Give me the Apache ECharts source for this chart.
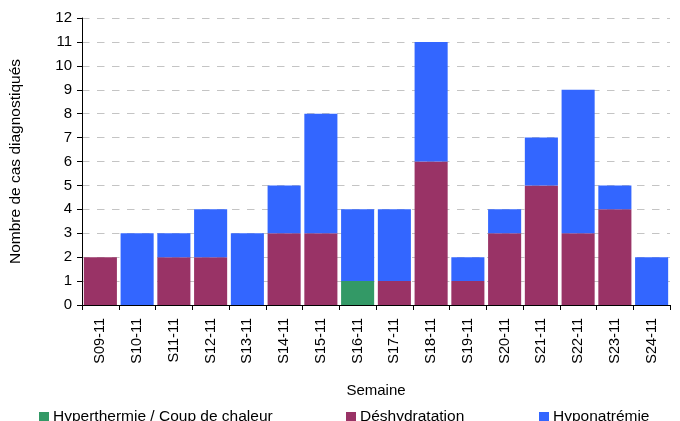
<!DOCTYPE html>
<html lang="fr">
<head>
<meta charset="UTF-8">
<script src="https://cdn.jsdelivr.net/npm/echarts@6/dist/echarts.min.js"></script>
<title>Cas diagnostiqués</title>
<style>
  html, body { margin: 0; padding: 0; background: #fff; }
  #chart { width: 680px; height: 421px; }
</style>
</head>
<body>
<div id="chart"></div>
<script>
    var weeks = ['S09-11', 'S10-11', 'S11-11', 'S12-11', 'S13-11', 'S14-11', 'S15-11', 'S16-11',
        'S17-11', 'S18-11', 'S19-11', 'S20-11', 'S21-11', 'S22-11', 'S23-11', 'S24-11'];
    var hyperthermie = [0, 0, 0, 0, 0, 0, 0, 1, 0, 0, 0, 0, 0, 0, 0, 0];
    var deshydratation = [2, 0, 2, 2, 0, 3, 3, 0, 1, 6, 1, 3, 5, 3, 4, 0];
    var hyponatremie = [0, 3, 1, 2, 3, 2, 5, 3, 3, 5, 1, 1, 2, 6, 1, 2];

    var font = 'Liberation Sans, Arial, sans-serif';
    var chart = echarts.init(document.getElementById('chart'));

    // one legend per item, so each sits where the original puts it
    function legendAt(x, name) {
        return {
            left: x, top: 409, padding: 0,
            data: [name],
            icon: 'rect', itemWidth: 10, itemHeight: 10, itemGap: 4,
            textStyle: {fontFamily: font, fontSize: 15.5, color: '#000', padding: [0, 0, 0, -1]}
        };
    }

    function bar(name, values, color) {
        return {
            name: name,
            type: 'bar',
            stack: 'total',
            barCategoryGap: '10%',
            data: values,
            itemStyle: {color: color}
        };
    }

    chart.setOption({
        animation: false,
        legend: [
            legendAt(39, 'Hyperthermie / Coup de chaleur'),
            legendAt(346, 'Déshydratation'),
            legendAt(539, 'Hyponatrémie')
        ],
        grid: {left: 82, right: 10, top: 18, bottom: 116},
        xAxis: {
            type: 'category',
            data: weeks,
            name: 'Semaine',
            nameLocation: 'middle',
            nameGap: 78,
            nameTextStyle: {fontFamily: font, fontSize: 15, color: '#000'},
            axisLine: {lineStyle: {color: '#000', width: 1}},
            axisTick: {show: true, length: 5, lineStyle: {color: '#000'}},
            axisLabel: {rotate: 90, fontFamily: font, fontSize: 14.5, color: '#000', margin: 13}
        },
        yAxis: {
            type: 'value',
            min: 0, max: 12, interval: 1,
            name: 'Nombre de cas diagnostiqués',
            nameLocation: 'middle',
            nameGap: 58,
            nameTextStyle: {fontFamily: font, fontSize: 15.5, color: '#000'},
            axisLine: {show: true, lineStyle: {color: '#000', width: 1}},
            axisTick: {show: true, length: 5, lineStyle: {color: '#000'}},
            axisLabel: {fontFamily: font, fontSize: 15, color: '#000', margin: 10},
            splitLine: {lineStyle: {color: '#c4c4c4', type: [7.5, 7.5], width: 1}}
        },
        series: [
            bar('Hyperthermie / Coup de chaleur', hyperthermie, '#339966'),
            bar('Déshydratation', deshydratation, '#993366'),
            bar('Hyponatrémie', hyponatremie, '#3366FF')
        ]
    });
</script>
</body>
</html>
